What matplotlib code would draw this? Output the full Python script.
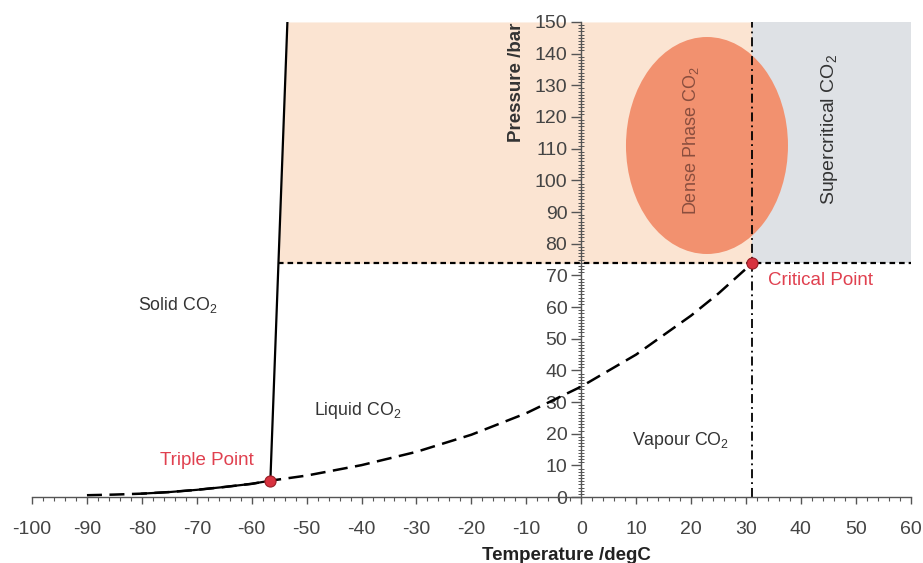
import numpy as np
import matplotlib.pyplot as plt
from matplotlib.patches import Ellipse
from matplotlib.ticker import MultipleLocator

plt.rcParams['font.family'] = ['Liberation Sans', 'DejaVu Sans']
plt.rcParams['mathtext.fontset'] = 'custom'
plt.rcParams['mathtext.rm'] = 'Liberation Sans'
plt.rcParams['axes.unicode_minus'] = False

# Vapour / sublimation curve (degC, bar)
temp_vap = [-90, -85, -80, -75, -70, -65, -60, -56.6, -50, -40, -30, -20, -10, 0, 10, 20, 25, 31.1]
p_vap = [0.6, 0.8, 1.1, 1.6, 2.3, 3.2, 4.2, 5.2, 6.8, 10.1, 14.3, 19.7, 26.5, 34.9, 45.0, 57.3, 64.3, 73.8]

# Sublimation part drawn solid under the dashes
temp_sub = [-80, -75, -70, -65, -60, -56.6]
p_sub = [1.1, 1.6, 2.3, 3.2, 4.2, 5.2]

# Melting line
temp_melt = [-56.6, -53.5]
p_melt = [5.2, 150]

triple = (-56.6, 5.2)
critical = (31.1, 73.8)
p_top = 150
t_right = 60

fig = plt.figure(figsize=(9.23, 5.63), dpi=100)
ax = fig.add_axes([0.0347, 0.117, 0.952, 0.844])
ax.set_xlim(-100, 60)
ax.set_ylim(0, 150)

# shaded regions above the critical pressure
melt_p = np.array([critical[1], p_top])
melt_t = np.interp(melt_p, p_melt, temp_melt)
ax.fill_betweenx(melt_p, melt_t, critical[0], color='#FBE4D2', lw=0, zorder=0)
ax.fill_betweenx(melt_p, critical[0], t_right, color='#DEE1E5', lw=0, zorder=0)

# dense phase ellipse
ax.add_patch(Ellipse((22.9, 111.0), 29.5, 68.5, facecolor='#F2916F', edgecolor='none', zorder=1))

# lines
ax.plot(temp_sub, p_sub, color='black', lw=1.6, zorder=3)
ax.plot(temp_vap, p_vap, color='black', lw=1.8, dashes=(6, 3), zorder=3)
ax.plot(temp_melt, p_melt, color='black', lw=1.6, zorder=3)
ax.plot([melt_t[0], t_right], [critical[1]] * 2, color='black', lw=1.6, dashes=(2.5, 1.8), zorder=3)
ax.plot([critical[0]] * 2, [0, p_top], color='black', lw=1.3, dashes=(5, 2.2, 1, 2.2), zorder=2)

# points
ax.plot(*triple, 'o', ms=8, mfc='#D8323F', mec='#9A1E26', mew=0.8, zorder=5)
ax.plot(*critical, 'o', ms=8, mfc='#D8323F', mec='#9A1E26', mew=0.8, zorder=5)

# axes through the origin
for s in ['top', 'right']:
    ax.spines[s].set_visible(False)
ax.spines['left'].set_position(('data', 0))
ax.spines['bottom'].set_position(('data', 0))
for s in ['left', 'bottom']:
    ax.spines[s].set_color('#555555')
    ax.spines[s].set_linewidth(1.0)
    ax.spines[s].set_zorder(4)

ax.xaxis.set_major_locator(MultipleLocator(10))
ax.xaxis.set_minor_locator(MultipleLocator(2))
ax.yaxis.set_major_locator(MultipleLocator(10))
ax.yaxis.set_minor_locator(MultipleLocator(1))
ax.tick_params(axis='x', which='major', direction='out', length=5, width=1, color='#555555',
               labelsize=14, labelcolor='#444444', pad=12)
ax.tick_params(axis='x', which='minor', direction='out', length=3, width=0.8, color='#555555')
ax.tick_params(axis='y', which='major', direction='out', length=7, width=1, color='#555555',
               labelsize=14, labelcolor='#444444', pad=3)
ax.tick_params(axis='y', which='minor', direction='inout', length=4, width=0.7, color='#555555')

ax.text(-11.8, 131, 'Pressure /bar', rotation=90, ha='center', va='center',
        fontsize=13.5, fontweight='bold', color='#333333')
fig.text(566 / 923, 1 - 555 / 563, 'Temperature /degC', ha='center', va='center',
         fontsize=13.5, fontweight='bold', color='#222222')

lab = dict(ha='center', va='center', fontsize=12.8, color='#333333')
ax.text(-73.4, 60.6, r'Solid CO$_\mathregular{2}$', **lab)
ax.text(-40.7, 27.5, r'Liquid CO$_\mathregular{2}$', **lab)
ax.text(18.1, 18.0, r'Vapour CO$_\mathregular{2}$', **lab)
ax.text(-68.1, 11.7, 'Triple Point', ha='center', va='center', fontsize=13.5, color='#E0404F')
ax.text(43.5, 68.5, 'Critical Point', ha='center', va='center', fontsize=13.5, color='#E0404F')
ax.text(19.9, 112.5, r'Dense Phase CO$_\mathregular{2}$', rotation=90, ha='center', va='center',
        fontsize=13, color='#8A4E3E')
ax.text(45.2, 116.0, r'Supercritical CO$_\mathregular{2}$', rotation=90, ha='center', va='center',
        fontsize=14, color='#333333')

fig.savefig('out.png', dpi=100)
